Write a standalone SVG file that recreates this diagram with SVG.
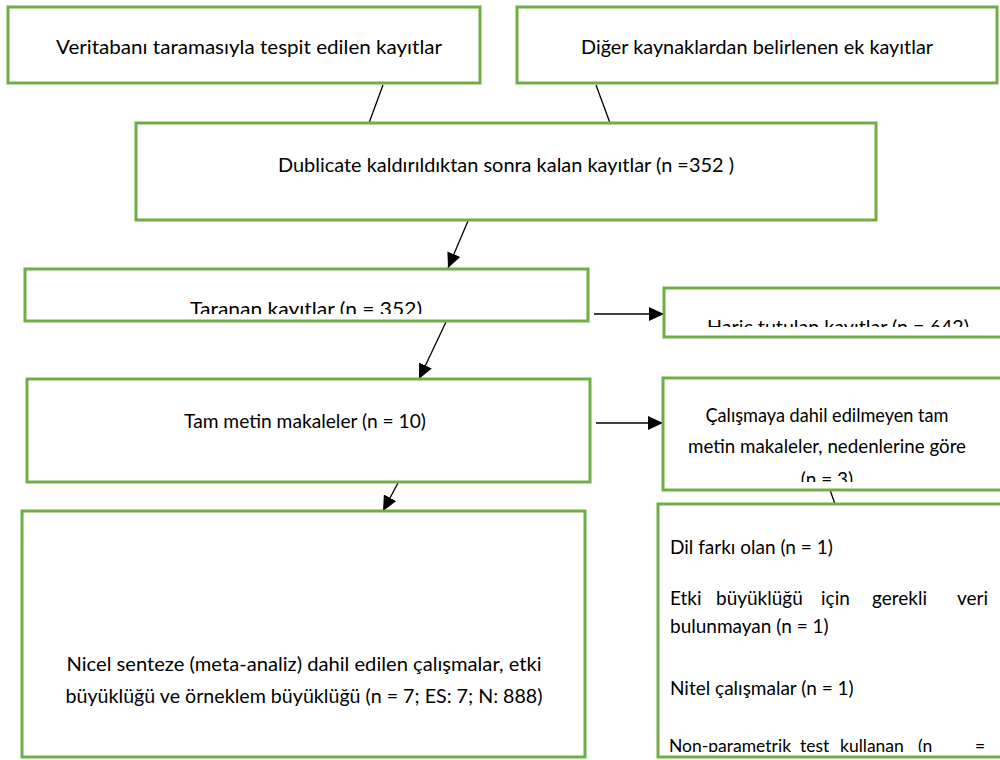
<svg xmlns="http://www.w3.org/2000/svg" width="1000" height="760" viewBox="0 0 1000 760">
  <style>
    .box { fill: #ffffff; stroke: #70AD47; stroke-width: 3; }
    .t { font-family: Lato, "Open Sans", "Liberation Sans", sans-serif; font-size: 19px; fill: #000000; }
    .s { font-size: 17.5px; }
    .c { text-anchor: middle; }
    .ln { stroke: #000000; stroke-width: 1.3; fill: none; }
    .ar { marker-end: url(#arrow); }
  </style>
  <defs>
    <marker id="arrow" markerUnits="userSpaceOnUse" markerWidth="16" markerHeight="14" refX="15" refY="7" orient="auto">
      <path d="M0,0 L15,7 L0,14 Z" fill="#000000"/>
    </marker>
    <clipPath id="clipTaranan"><rect x="25" y="269" width="563" height="45"/></clipPath>
    <clipPath id="clipHaric"><rect x="664" y="288" width="336" height="39"/></clipPath>
    <clipPath id="clipCalisma"><rect x="663" y="378" width="337" height="104"/></clipPath>
    <clipPath id="clipDetail"><rect x="658" y="504" width="342" height="248"/></clipPath>
  </defs>
  <rect width="1000" height="760" fill="#ffffff"/>

  <g id="connectors">
    <line class="ln" x1="383" y1="85" x2="369" y2="123"/>
    <line class="ln" x1="596" y1="85" x2="610" y2="123"/>
    <line class="ln ar" x1="468" y1="221" x2="448" y2="268"/>
    <line class="ln ar" x1="594" y1="314" x2="664" y2="314"/>
    <line class="ln ar" x1="446" y1="322" x2="419" y2="379"/>
    <line class="ln ar" x1="596" y1="423" x2="663" y2="423"/>
    <line class="ln ar" x1="398" y1="483" x2="383" y2="511"/>
    <line class="ln" x1="830" y1="490" x2="835" y2="504"/>
  </g>

  <g id="veritabani">
    <rect class="box" x="8" y="7" width="472" height="76"/>
    <text class="t c" x="249" y="54" textLength="386" lengthAdjust="spacingAndGlyphs">Veritabanı taramasıyla tespit edilen kayıtlar</text>
  </g>

  <g id="diger">
    <rect class="box" x="517" y="7" width="480" height="76"/>
    <text class="t c" x="757" y="54" textLength="352" lengthAdjust="spacingAndGlyphs">Diğer kaynaklardan belirlenen ek kayıtlar</text>
  </g>

  <g id="dublicate">
    <rect class="box" x="136" y="123" width="740" height="97"/>
    <text class="t c" x="506" y="172" textLength="456" lengthAdjust="spacingAndGlyphs">Dublicate kaldırıldıktan sonra kalan kayıtlar (n =352 )</text>
  </g>

  <g id="taranan">
    <rect class="box" x="25" y="269" width="563" height="52"/>
    <text class="t c" x="306" y="316" textLength="232" lengthAdjust="spacingAndGlyphs" clip-path="url(#clipTaranan)">Taranan kayıtlar (n = 352)</text>
  </g>

  <g id="haric">
    <rect class="box" x="664" y="288" width="350" height="49"/>
    <text class="t c" x="838" y="334" textLength="262" lengthAdjust="spacingAndGlyphs" clip-path="url(#clipHaric)">Hariç tutulan kayıtlar (n = 642)</text>
  </g>

  <g id="tammetin">
    <rect class="box" x="27" y="379" width="563" height="103"/>
    <text class="t c" x="305" y="428" textLength="242" lengthAdjust="spacingAndGlyphs">Tam metin makaleler (n = 10)</text>
  </g>

  <g id="calismaya">
    <rect class="box" x="663" y="378" width="350" height="112"/>
    <g clip-path="url(#clipCalisma)">
      <text class="t c" x="827" y="422" textLength="243" lengthAdjust="spacingAndGlyphs">Çalışmaya dahil edilmeyen tam</text>
      <text class="t c" x="827" y="453" textLength="278" lengthAdjust="spacingAndGlyphs">metin makaleler, nedenlerine göre</text>
      <text class="t c" x="827" y="486">(n = 3)</text>
    </g>
  </g>

  <g id="nicel">
    <rect class="box" x="22" y="511" width="563" height="246"/>
    <text class="t c" x="304" y="671" textLength="475" lengthAdjust="spacingAndGlyphs">Nicel senteze (meta-analiz) dahil edilen çalışmalar, etki</text>
    <text class="t c" x="304" y="703" textLength="477" lengthAdjust="spacingAndGlyphs">büyüklüğü ve örneklem büyüklüğü (n = 7; ES: 7; N: 888)</text>
  </g>

  <g id="detay">
    <rect class="box" x="658" y="504" width="350" height="253"/>
    <g clip-path="url(#clipDetail)">
      <text class="t" x="670" y="554">Dil farkı olan (n = 1)</text>
      <text class="t" y="605"><tspan x="670">Etki</tspan><tspan x="716">büyüklüğü</tspan><tspan x="821">için</tspan><tspan x="872">gerekli</tspan><tspan x="957">veri</tspan></text>
      <text class="t" x="670" y="633">bulunmayan (n = 1)</text>
      <text class="t" x="670" y="695">Nitel çalışmalar (n = 1)</text>
      <text class="t s" y="752"><tspan x="669">Non-parametrik</tspan><tspan x="800">test</tspan><tspan x="840">kullanan</tspan><tspan x="918">(n</tspan><tspan x="975">=</tspan></text>
    </g>
  </g>
</svg>
